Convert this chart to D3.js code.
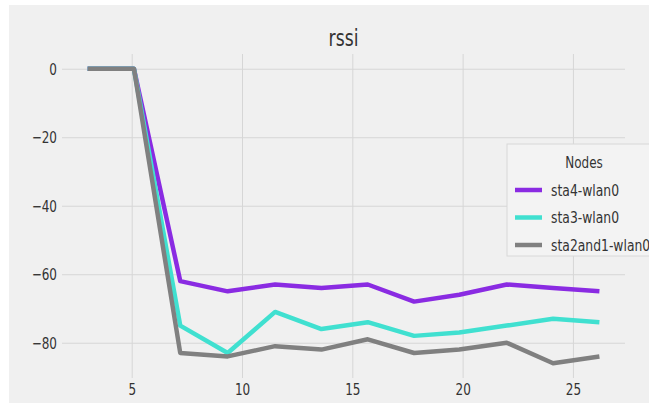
<!DOCTYPE html>
<html>
<head>
<meta charset="utf-8">
<script src="https://cdn.jsdelivr.net/npm/d3@7"></script>
<style>
  html, body { margin: 0; padding: 0; background: #ffffff; }
  svg { display: block; }
  text { font-family: "DejaVu Sans", sans-serif; fill: #333; }
</style>
</head>
<body>
<svg id="chart" width="649" height="403"></svg>
<script>
// Sample times (x) and RSSI readings per node
const times = [3.0, 5.1, 7.2, 9.35, 11.5, 13.6, 15.7, 17.8, 19.85, 22.0, 24.1, 26.2];
const sta4 = [0, 0, -62, -65, -63, -64, -63, -68, -66, -63, -64, -65];
const sta3 = [0, 0, -75, -83, -71, -76, -74, -78, -77, -75, -73, -74];
const sta2and1 = [0, 0, -83, -84, -81, -82, -79, -83, -82, -80, -86, -84];

const seriesNames = ["sta4-wlan0", "sta3-wlan0", "sta2and1-wlan0"];
const seriesColors = ["#8a2be2", "#40e0d0", "#808080"];
const xTicks = [5, 10, 15, 20, 25];
const yTicks = [0, -20, -40, -60, -80];

const series = [sta4, sta3, sta2and1].map((vals, i) => ({
  name: seriesNames[i],
  color: seriesColors[i],
  points: vals.map((v, j) => ({ x: times[j], y: v }))
}));

const svg = d3.select("#chart");
const plotLeft = 62, plotRight = 625, plotTop = 54, plotBottom = 378;
const sx = 0.75; // horizontal text squeeze

// Figure face with a thin white margin on the top and left
svg.append("rect").attr("width", 649).attr("height", 403).attr("fill", "#ffffff");
svg.append("rect").attr("x", 9).attr("y", 5).attr("width", 640).attr("height", 398).attr("fill", "#f0f0f0");

// Axis limits padded 5% around the data
const xExt = d3.extent(times);
const xPad = (xExt[1] - xExt[0]) * 0.05;
const allY = [].concat(sta4, sta3, sta2and1);
const yExt = d3.extent(allY);
const yPad = (yExt[1] - yExt[0]) * 0.05;

const x = d3.scaleLinear().domain([xExt[0] - xPad, xExt[1] + xPad]).range([plotLeft, plotRight]);
const y = d3.scaleLinear().domain([yExt[0] - yPad, yExt[1] + yPad]).range([plotBottom, plotTop]);

// Grid + tick labels
const yAxis = svg.append("g")
  .attr("transform", `translate(${plotLeft},0)`)
  .call(d3.axisLeft(y).tickValues(yTicks).tickSize(-(plotRight - plotLeft)).tickPadding(0)
    .tickFormat(d => d3.format("d")(d).replace("-", "\u2212")));
const xAxis = svg.append("g")
  .attr("transform", `translate(0,${plotBottom})`)
  .call(d3.axisBottom(x).tickValues(xTicks).tickSize(-(plotBottom - plotTop)).tickPadding(0)
    .tickFormat(d3.format("d")));

[xAxis, yAxis].forEach(g => {
  g.select(".domain").remove();
  g.selectAll(".tick line").attr("stroke", "#d6d6d6").attr("stroke-width", 1);
  g.selectAll(".tick text")
    .attr("fill", "#3a3a3a")
    .style("font-size", "16px");
});
yAxis.selectAll(".tick text").attr("x", -5 / sx).attr("dy", "0.36em")
  .attr("transform", `scale(${sx},1)`);
xAxis.selectAll(".tick text").attr("y", 6).attr("dy", "0.71em")
  .attr("transform", `scale(${sx},1)`);

// Lines
const line = d3.line().x(d => x(d.x)).y(d => y(d.y));
svg.append("g").selectAll("path")
  .data(series)
  .join("path")
  .attr("d", d => line(d.points))
  .attr("fill", "none")
  .attr("stroke", d => d.color)
  .attr("stroke-width", 4.5)
  .attr("stroke-linejoin", "round")
  .attr("stroke-linecap", "butt");

// Title
svg.append("text")
  .attr("transform", `translate(${(plotLeft + plotRight) / 2},46) scale(${sx},1)`)
  .attr("text-anchor", "middle")
  .style("font-size", "23px")
  .attr("fill", "#222")
  .text("rssi");

// Legend
const legend = svg.append("g").attr("transform", "translate(507,144)");
legend.append("rect")
  .attr("width", 160).attr("height", 112)
  .attr("fill", "#f3f3f3")
  .attr("stroke", "#d8d8d8")
  .attr("stroke-width", 1);
legend.append("text")
  .attr("transform", `translate(77,18) scale(${sx},1)`)
  .attr("text-anchor", "middle")
  .attr("dy", "0.35em")
  .style("font-size", "16px")
  .attr("fill", "#333")
  .text("Nodes");
const items = legend.selectAll("g.item")
  .data(series)
  .join("g")
  .attr("class", "item")
  .attr("transform", (d, i) => `translate(8,${46 + i * 27.5})`);
items.append("line")
  .attr("x1", 0).attr("x2", 27)
  .attr("stroke", d => d.color)
  .attr("stroke-width", 4.5);
items.append("text")
  .attr("transform", `translate(36,0) scale(${sx},1)`)
  .attr("dy", "0.35em")
  .style("font-size", "16.5px")
  .attr("fill", "#333")
  .text(d => d.name);
</script>
</body>
</html>
